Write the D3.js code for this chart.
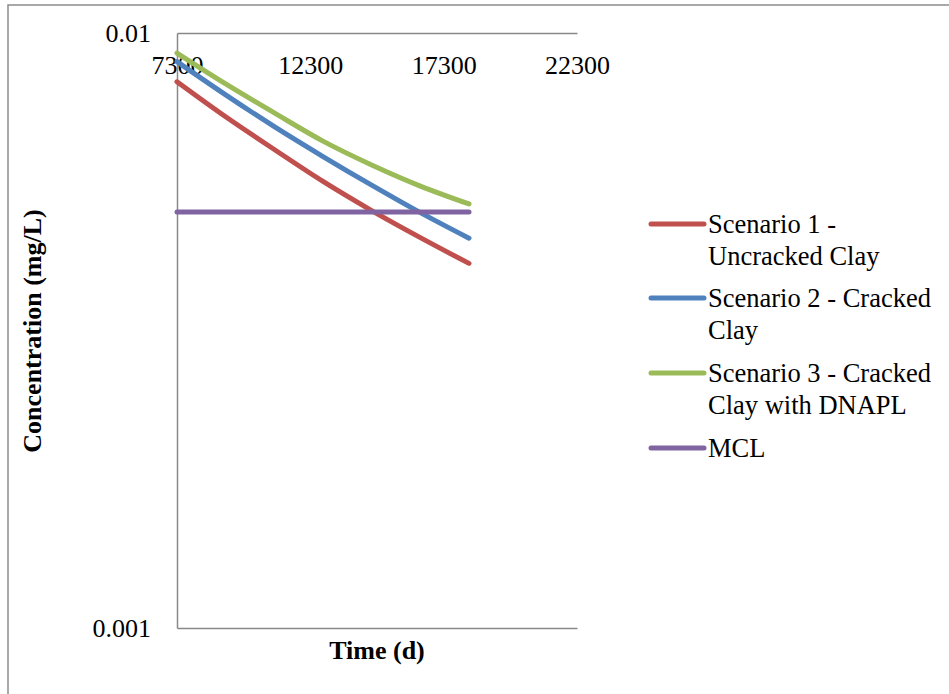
<!DOCTYPE html>
<html>
<head>
<meta charset="utf-8">
<script src="https://cdn.jsdelivr.net/npm/d3@7"></script>
<style>
body { margin: 0; background: #fff; }
text { font-family: "Liberation Serif", "Times New Roman", serif; }
</style>
</head>
<body>
<script>
// time in days
var days = [7300, 9125, 10950, 12775, 14600, 16425, 18250];
// concentrations in mg/L
var scenario1 = [0.00828, 0.00723, 0.00637, 0.00563, 0.00503, 0.00453, 0.00410];
var scenario2 = [0.00895, 0.00787, 0.00696, 0.00620, 0.00555, 0.00499, 0.00452];
var scenario3 = [0.00925, 0.00821, 0.00734, 0.00658, 0.00600, 0.00553, 0.00516];
var mcl = [0.005, 0.005, 0.005, 0.005, 0.005, 0.005, 0.005];

var xTicks = [7300, 12300, 17300, 22300];
var yTicks = [0.001, 0.01];

var seriesNames = [["Scenario 1 -", "Uncracked Clay"], ["Scenario 2 - Cracked", "Clay"],
	["Scenario 3 - Cracked", "Clay with DNAPL"], ["MCL"]];
var seriesValues = [scenario1, scenario2, scenario3, mcl];
var seriesColors = ["#C0504D", "#4F81BD", "#9BBB59", "#8064A2"];

var svg = d3.select("body").append("svg")
	.attr("width", 949)
	.attr("height", 694);

// chart frame
svg.append("rect")
	.attr("x", 8).attr("y", 5)
	.attr("width", 1200).attr("height", 1200)
	.attr("fill", "none")
	.attr("stroke", "#8c8c8c")
	.attr("stroke-width", 1.5);

var x = d3.scaleLinear().domain([7300, 22300]).range([177, 577]);
var y = d3.scaleLog().domain([0.001, 0.01]).range([628, 33]);

// horizontal axis sits at the top, labels below it
var xAxis = svg.append("g")
	.attr("transform", "translate(0," + y(0.01) + ")")
	.call(d3.axisBottom(x).tickValues(xTicks).tickSize(0).tickPadding(23).tickFormat(d3.format("d")));

var bottomLine = svg.append("g")
	.attr("transform", "translate(0," + y(0.001) + ")")
	.call(d3.axisBottom(x).tickValues([]).tickSize(0));

var yAxis = svg.append("g")
	.attr("transform", "translate(" + x(7300) + ",0)")
	.call(d3.axisLeft(y).tickValues(yTicks).tickSize(0).tickPadding(26).tickFormat(d3.format("~g")));

svg.selectAll(".domain")
	.attr("stroke", "#898989")
	.attr("stroke-width", 1.5);

svg.selectAll(".tick text")
	.style("font-family", "'Liberation Serif', 'Times New Roman', serif")
	.style("font-size", "26px")
	.attr("fill", "#000");

// series lines, smoothed like the spreadsheet
var line = d3.line()
	.x(function (d, i) { return x(days[i]); })
	.y(function (d) { return y(d); })
	.curve(d3.curveCatmullRom.alpha(0.5));

svg.selectAll(".series")
	.data(seriesValues)
	.enter()
	.append("path")
	.attr("class", "series")
	.attr("d", line)
	.attr("fill", "none")
	.attr("stroke", function (d, i) { return seriesColors[i]; })
	.attr("stroke-width", 5)
	.attr("stroke-linecap", "round");

// axis titles
svg.append("text")
	.attr("x", 377)
	.attr("y", 659)
	.attr("text-anchor", "middle")
	.style("font-size", "26px")
	.style("font-weight", "bold")
	.text("Time (d)");

svg.append("text")
	.attr("transform", "translate(41,331) rotate(-90)")
	.attr("text-anchor", "middle")
	.style("font-size", "26px")
	.style("font-weight", "bold")
	.text("Concentration (mg/L)");

// legend
var legendY = [224, 298, 373, 448];
var legend = svg.selectAll(".legend")
	.data(seriesNames)
	.enter()
	.append("g")
	.attr("class", "legend")
	.attr("transform", function (d, i) { return "translate(0," + legendY[i] + ")"; });

legend.append("line")
	.attr("x1", 651).attr("x2", 704)
	.attr("stroke", function (d, i) { return seriesColors[i]; })
	.attr("stroke-width", 5)
	.attr("stroke-linecap", "round");

legend.append("text")
	.style("font-size", "26.5px")
	.selectAll("tspan")
	.data(function (d) { return d; })
	.enter()
	.append("tspan")
	.attr("x", 708)
	.attr("y", function (d, i) { return 9 + i * 31.5; })
	.text(function (d) { return d; });
</script>
</body>
</html>
